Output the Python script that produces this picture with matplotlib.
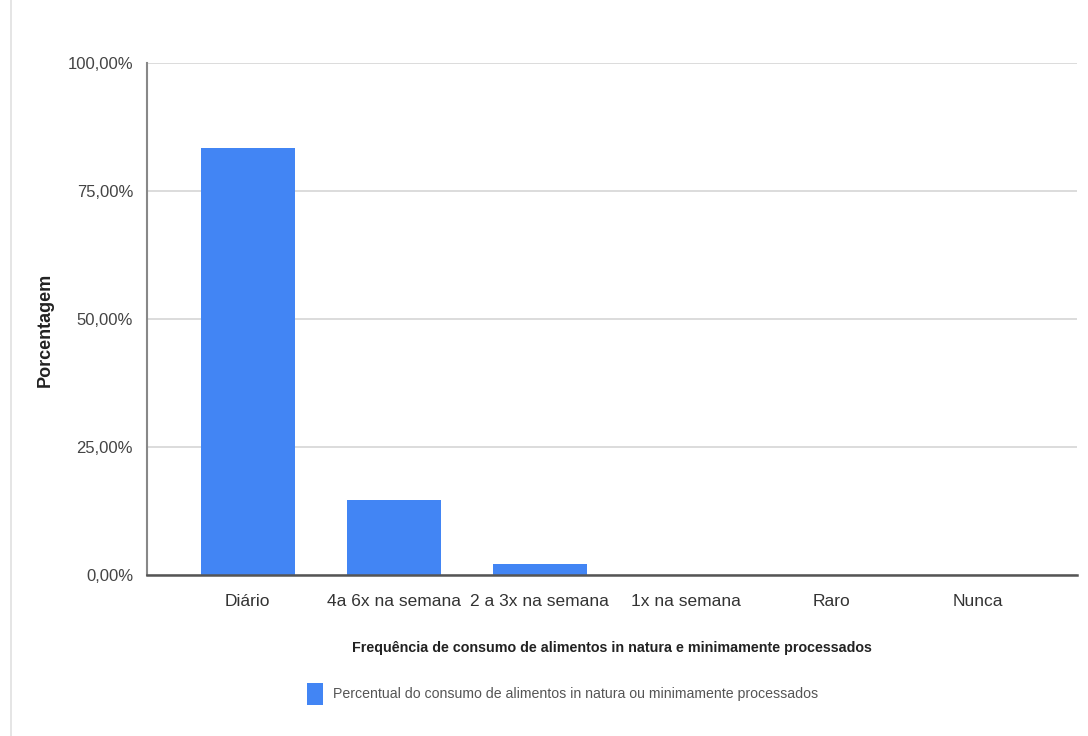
import matplotlib.pyplot as plt
from matplotlib.patches import Patch
from matplotlib.lines import Line2D
from matplotlib.ticker import FuncFormatter

plt.rcParams["font.family"] = ["Liberation Sans Narrow", "Liberation Sans", "DejaVu Sans"]

# Data
categorias = ["Diário", "4a 6x na semana", "2 a 3x na semana", "1x na semana", "Raro", "Nunca"]
percentuais = [83.3, 14.6, 2.1, 0, 0, 0]
serie = "Percentual do consumo de alimentos in natura ou minimamente processados"

fig = plt.figure(figsize=(10.88, 7.36), dpi=100)
ax = fig.add_axes([147 / 1088, 1 - 574.7 / 736, 930 / 1088, 512 / 736])

x = range(len(categorias))
ax.bar(x, percentuais, width=0.645, color="#4285f4", zorder=3)

ax.set_xlim(-0.69, 5.68)
ax.set_ylim(0, 100)
ax.set_yticks([0, 25, 50, 75, 100])
ax.yaxis.set_major_formatter(FuncFormatter(lambda v, p: f"{v:.2f}%".replace(".", ",")))
ax.set_xticks(list(x))
ax.set_xticklabels(categorias)
ax.tick_params(axis="y", length=0, labelsize=12, colors="#444444", pad=10)
ax.tick_params(axis="x", length=0, labelsize=12.5, colors="#333333", pad=14)

ax.grid(axis="y", color="#d9d9d9", linewidth=1.3, zorder=0)
for s in ["top", "right"]:
    ax.spines[s].set_visible(False)
ax.spines["left"].set_color("#888888")
ax.spines["left"].set_linewidth(1.5)
ax.spines["bottom"].set_color("#555555")
ax.spines["bottom"].set_linewidth(1.8)
ax.spines["bottom"].set_zorder(4)

fig.text(45 / 1088, 1 - 330 / 736, "Porcentagem", rotation=90, ha="center", va="center",
         fontsize=13, fontweight="bold", color="#222222")
fig.text(612 / 1088, 1 - 648 / 736,
         "Frequência de consumo de alimentos in natura e minimamente processados",
         ha="center", va="center", fontsize=10.3, fontweight="bold", color="#222222")

fig.legend(handles=[Patch(facecolor="#4285f4")], labels=[serie],
           loc="center left", bbox_to_anchor=(294 / 1088, 1 - 694 / 736),
           frameon=False, fontsize=10.2, handlelength=1.15, handleheight=2.0,
           handletextpad=0.7, labelcolor="#555555")

# left border of the screenshot
fig.add_artist(Line2D([11 / 1088, 11 / 1088], [0, 1], color="#e0e0e0", linewidth=1.2))

plt.savefig("out.png", dpi=100)
